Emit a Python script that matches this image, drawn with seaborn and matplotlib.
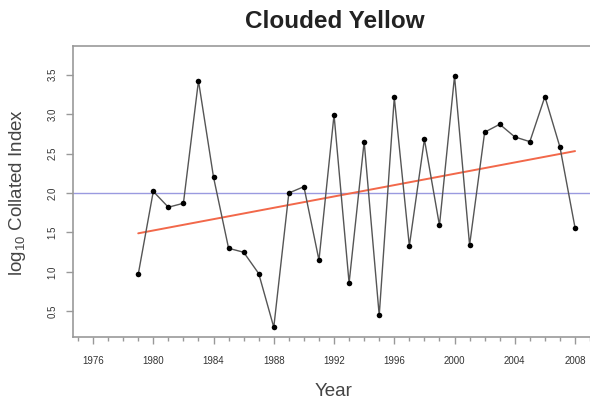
import numpy as np
import pandas as pd
import matplotlib
matplotlib.use("Agg")
import matplotlib.pyplot as plt
from matplotlib.ticker import MultipleLocator
import seaborn as sns

years = list(range(1979, 2009))
index_log10 = [0.97, 2.02, 1.82, 1.87, 3.42, 2.20, 1.30, 1.25, 0.98, 0.30,
               2.00, 2.08, 1.15, 2.99, 0.86, 2.65, 0.45, 3.21, 1.33, 2.68,
               1.59, 3.48, 1.34, 2.77, 2.87, 2.71, 2.65, 3.22, 2.58, 1.56]
reference_level = 2.0
x_ticks = [1976, 1980, 1984, 1988, 1992, 1996, 2000, 2004, 2008]
y_ticks = [0.5, 1.0, 1.5, 2.0, 2.5, 3.0, 3.5]

df = pd.DataFrame({"Year": years, "Index": index_log10})

sns.set_style("white")
plt.rcParams["font.family"] = ["Liberation Sans", "DejaVu Sans"]

fig = plt.figure(figsize=(5.9, 4.03), dpi=100)
ax = fig.add_axes([73 / 590, 66 / 403, 529 / 590, 291 / 403])

# horizontal reference line
ax.axhline(reference_level, color="#9a9ae0", lw=1.0, zorder=1)

# linear trend fitted to the series
slope, intercept = np.polyfit(df["Year"], df["Index"], 1)
trend = pd.DataFrame({"Year": [years[0], years[-1]]})
trend["Fit"] = intercept + slope * trend["Year"]
sns.lineplot(data=trend, x="Year", y="Fit", ax=ax, color="#f2684a", lw=1.4, zorder=2)

# annual series
sns.lineplot(data=df, x="Year", y="Index", ax=ax, color="#555555", lw=1.0, zorder=3)
sns.scatterplot(data=df, x="Year", y="Index", ax=ax, color="black", s=16,
                marker="o", edgecolor="black", linewidth=0, zorder=4)

ax.set_xlim(1974.67, 1974.67 + 529 / 15.0625)
ax.set_ylim(0.177, 3.861)
ax.set_xticks(x_ticks)
ax.set_xticklabels([str(t) for t in x_ticks])
ax.xaxis.set_minor_locator(MultipleLocator(1))
ax.set_yticks(y_ticks)
ax.set_yticklabels([f"{t:.1f}" for t in y_ticks], rotation=90, va="center")

for side in ["top", "left", "bottom"]:
    ax.spines[side].set_color("#999999")
    ax.spines[side].set_linewidth(1.2)
ax.spines["right"].set_visible(False)

ax.tick_params(axis="both", which="major", length=5, width=1, color="#999999",
               labelsize=7, labelcolor="#333333", direction="out", pad=6)
ax.tick_params(axis="x", which="minor", length=3, width=1, color="#999999",
               direction="out", bottom=True)
ax.tick_params(axis="x", which="major", pad=9, bottom=True)
ax.tick_params(axis="y", which="major", left=True)

ax.set_xlabel("Year", fontsize=13.5, color="#444444")
ax.xaxis.set_label_coords((334 - 73) / 529, -(392 - 337) / 291)
ax.set_ylabel(r"$\mathregular{log_{10}}$ Collated Index", fontsize=13.5, color="#444444")
ax.yaxis.set_label_coords(-(73 - 17) / 529, (337 - 192) / 291)
ax.xaxis.label.set_va("center")
ax.yaxis.label.set_va("center")
fig.text(335 / 590, 1 - 22 / 403, "Clouded Yellow", ha="center", va="center",
         fontsize=17.5, fontweight="bold", color="#222222")

fig.savefig("out.png", dpi=100)
